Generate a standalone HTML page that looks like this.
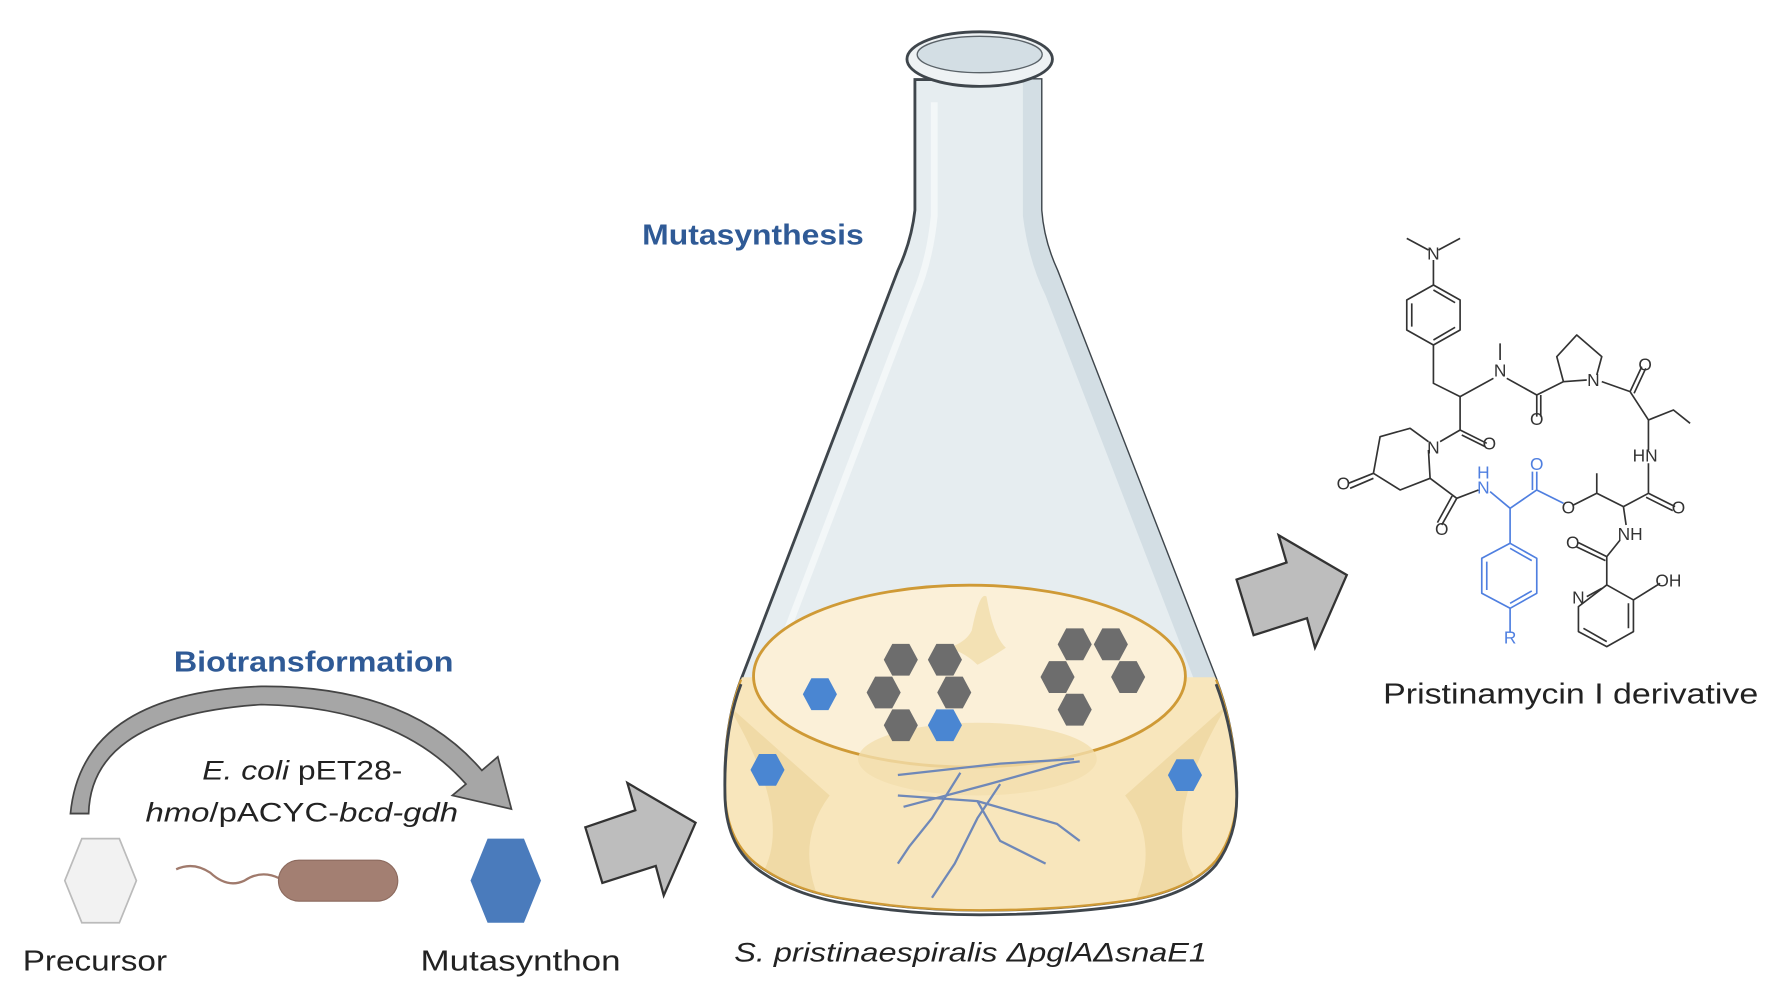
<!DOCTYPE html>
<html><head><meta charset="utf-8"><style>html,body{margin:0;padding:0;background:#fff}svg{display:block}</style></head>
<body>
<svg width="1773" height="1000" viewBox="0 0 1560 880" preserveAspectRatio="none" xmlns="http://www.w3.org/2000/svg" font-family="'Liberation Sans', sans-serif">
<defs>
<clipPath id="fc"><path d="M805,70 L805,185 Q802,212 790,238 L652,598 Q636,640 638,700 Q640,742 668,762 Q700,785 750,792 Q805,801 862,801 Q935,801 995,792 Q1048,783 1070,757 Q1090,730 1088,690 Q1086,640 1070,598 L930,238 Q918,212 916,185 L916,70 Z"/></clipPath>
<polygon id="hx" points="-15,0 -7.5,-14 7.5,-14 15,0 7.5,14 -7.5,14"/>
</defs>
<!-- flask -->
<path d="M805,70 L805,185 Q802,212 790,238 L652,598 Q636,640 638,700 Q640,742 668,762 Q700,785 750,792 Q805,801 862,801 Q935,801 995,792 Q1048,783 1070,757 Q1090,730 1088,690 Q1086,640 1070,598 L930,238 Q918,212 916,185 L916,70 Z" fill="#e6edf0" stroke="#3f464c" stroke-width="2.5"/>
<g clip-path="url(#fc)">
<path d="M900,70 L900,190 Q905,230 920,260 L1090,700 L1100,700 L1100,60 Z" fill="#d3dee4"/>
<path d="M822,90 L822,190 Q818,230 805,260 L660,640" stroke="#f3f7f8" stroke-width="6" fill="none"/>
<rect x="600" y="596" width="520" height="220" fill="#f8e6bc"/>
<path d="M640,620 Q700,720 670,770 L680,790 L720,790 Q700,740 730,700 Z" fill="#eed7a0" opacity=".8"/>
<path d="M1080,620 Q1020,720 1050,770 L1040,790 L1000,790 Q1020,740 990,700 Z" fill="#eed7a0" opacity=".8"/>
</g>
<ellipse cx="853" cy="595" rx="190" ry="80" fill="#fbf0d8" stroke="#cf9a36" stroke-width="2.5"/>
<ellipse cx="860" cy="668" rx="105" ry="32" fill="#f3dfae" opacity=".8"/>
<path d="M855,555 Q862,520 868,525 Q874,560 885,570 Q870,580 860,585 Q850,575 835,570 Q850,565 855,555Z" fill="#f3e1b4"/>
<path d="M652,598 Q636,640 638,700 Q640,742 668,762 Q700,785 750,792 Q805,801 862,801 Q935,801 995,792 Q1048,783 1070,757 Q1090,730 1088,690 Q1086,640 1070,598" fill="none" stroke="#cf9a36" stroke-width="2"/>
<path d="M652,598 Q636,640 638,700 Q640,742 668,762 Q700,785 750,792 Q805,801 862,801 Q935,801 995,792 Q1048,783 1070,757 Q1090,730 1088,690 Q1086,640 1070,598" fill="none" stroke="#3f464c" stroke-width="2.5" transform="translate(0,4)"/>
<g stroke="#6f88b8" stroke-width="2" fill="none">
<path d="M790,682 L880,672 L945,668"/><path d="M795,710 L870,690 L935,672 L950,670"/>
<path d="M845,680 L820,720 L800,745 L790,760"/><path d="M880,690 L860,720 L840,760 L820,790"/>
<path d="M790,700 L860,705 L930,725 L950,740"/><path d="M860,705 L880,740 L920,760"/>
</g>
<ellipse cx="862" cy="52" rx="64" ry="24" fill="#eef2f4" stroke="#3f464c" stroke-width="2.5"/>
<ellipse cx="862" cy="48" rx="55" ry="16" fill="#d3dee4" stroke="#5a6268" stroke-width="1.2"/>
<!-- hexagons in flask -->
<g fill="#6d6d6d">
<use href="#hx" x="792.6" y="580.6"/><use href="#hx" x="831.4" y="580.6"/><use href="#hx" x="777.5" y="609.4"/><use href="#hx" x="839.6" y="609.4"/><use href="#hx" x="792.6" y="638.2"/>
<use href="#hx" x="945.6" y="567"/><use href="#hx" x="977.4" y="567"/><use href="#hx" x="930.5" y="595.8"/><use href="#hx" x="992.6" y="595.8"/><use href="#hx" x="945.6" y="624.5"/>
</g>
<g fill="#4a86d2">
<use href="#hx" x="831.4" y="638.2"/><use href="#hx" x="721.4" y="610.9"/><use href="#hx" x="675.3" y="677.5"/><use href="#hx" x="1042.6" y="682.1"/>
</g>
<!-- block arrows -->
<polygon points="1088,510 1132,495 1125,471 1185,506 1157,570 1150,544 1103,559" fill="#bdbdbd" stroke="#333" stroke-width="2"/>
<polygon points="515,728 559,713 552,689 612,724 584,788 577,762 530,777" fill="#bdbdbd" stroke="#333" stroke-width="2"/>
<!-- curved arrow -->
<path d="M78,716 Q80,630 230,620 Q350,622 410,690 L398,700 L450,712 L438,666 L424,678 Q360,603 230,604 Q72,610 62,716 Z" fill="#a6a6a6" stroke="#444" stroke-width="1.5"/>
<path d="M78,716 L62,716" stroke="#444" stroke-width="1.5"/>
<!-- left items -->
<polygon points="57,775 72,738 105,738 120,775 105,812 72,812" fill="#f2f2f2" stroke="#bbb" stroke-width="1.5"/>
<polygon points="414,775 429,738 461,738 476,775 461,812 429,812" fill="#4a7bbc"/>
<path d="M155,765 Q170,758 185,768 Q200,782 215,775 Q230,765 246,773" fill="none" stroke="#a07a6c" stroke-width="2"/>
<rect x="245" y="757" width="105" height="36" rx="18" fill="#a37f72" stroke="#8c6a5e"/>
<!-- texts -->
<text x="153" y="591" font-size="25" font-weight="bold" fill="#2f5a96" textLength="246" lengthAdjust="spacingAndGlyphs">Biotransformation</text>
<text x="565" y="215" font-size="25" font-weight="bold" fill="#2f5a96" textLength="195" lengthAdjust="spacingAndGlyphs">Mutasynthesis</text>
<text x="178" y="686" font-size="24" fill="#222" textLength="176" lengthAdjust="spacingAndGlyphs"><tspan font-style="italic">E. coli</tspan> pET28-</text>
<text x="128" y="723" font-size="24" fill="#222" textLength="275" lengthAdjust="spacingAndGlyphs"><tspan font-style="italic">hmo</tspan>/pACYC-<tspan font-style="italic">bcd-gdh</tspan></text>
<text x="20" y="854" font-size="25" fill="#222" textLength="127" lengthAdjust="spacingAndGlyphs">Precursor</text>
<text x="370" y="854" font-size="25" fill="#222" textLength="176" lengthAdjust="spacingAndGlyphs">Mutasynthon</text>
<text x="646" y="846" font-size="24" font-style="italic" fill="#222" textLength="416" lengthAdjust="spacingAndGlyphs">S. pristinaespiralis ΔpglAΔsnaE1</text>
<text x="1217" y="619" font-size="25" fill="#222" textLength="330" lengthAdjust="spacingAndGlyphs">Pristinamycin I derivative</text>
<!-- molecule -->
<g transform="translate(1170.3,193.6) scale(0.2933)" fill="none" stroke="#333" stroke-width="5" stroke-linejoin="round">
<path d="M230,55 L295,90 M325,90 L390,55 M310,120 L310,195"/>
<polygon points="310,195 390,240 390,330 310,375 230,330 230,240"/>
<path d="M245,250 L245,320 M310,210 L375,248 M310,360 L375,322"/>
<path d="M310,375 L310,490 L390,530 L490,475 M510,420 L510,370 M530,475 L620,525 L700,485 M620,525 L620,590 M632,525 L632,590"/>
<path d="M700,485 L680,410 L740,345 L815,410 L800,465 M770,480 L700,485"/>
<path d="M815,485 L900,515 L955,600 M900,515 L935,440 M912,520 L947,445 M955,600 L1030,570 L1080,610 M955,600 L955,690 M955,730 L955,820 L880,860 M955,820 L1035,860 M948,832 L1028,872"/>
<path d="M880,860 L800,820 L800,760 M800,820 L730,855"/>
<path d="M390,530 L390,630 L470,670 M395,645 L465,680 M390,630 L330,665 M295,690 L300,775 L210,810 L130,760 L150,650 L240,625 L295,665 M130,760 L55,790 M130,775 L60,805"/>
<path d="M300,775 L380,835 L445,810 M380,835 L335,915 M366,828 L322,908"/>
<path d="M880,860 L888,915 M870,960 L830,1010 L745,968 M826,1022 L738,980 M830,1010 L830,1095"/>
<polygon points="830,1095 910,1140 910,1235 830,1280 745,1235 745,1160"/>
<path d="M910,1140 L990,1090 M895,1150 L895,1225 M830,1265 L760,1225 M815,1105 L770,1130"/>
</g>
<g transform="translate(1170.3,193.6) scale(0.2933)" fill="none" stroke="#4f7fe0" stroke-width="5" stroke-linejoin="round">
<path d="M480,815 L540,865 L620,810 L700,850 M620,810 L620,755 M607,810 L607,755 M540,865 L540,970"/>
<polygon points="540,970 620,1015 620,1120 540,1165 455,1120 455,1015"/>
<path d="M470,1025 L470,1110 M540,985 L605,1022 M540,1150 L605,1113 M540,1165 L540,1235"/>
</g>
<g transform="translate(1170.3,193.6) scale(0.2933)" font-size="52" fill="#333" text-anchor="middle">
<text x="310" y="118">N</text><text x="510" y="470">N</text><text x="790" y="498">N</text><text x="310" y="700">N</text>
<text x="945" y="452">O</text><text x="620" y="615">O</text><text x="478" y="688">O</text><text x="40" y="808">O</text>
<text x="335" y="945">O</text><text x="715" y="880">O</text><text x="1045" y="880">O</text><text x="728" y="985">O</text>
<text x="945" y="725">HN</text><text x="900" y="960">NH</text><text x="1015" y="1100">OH</text><text x="745" y="1150">N</text>
<text x="460" y="820" fill="#4f7fe0">N</text><text x="460" y="775" fill="#4f7fe0">H</text><text x="620" y="750" fill="#4f7fe0">O</text><text x="540" y="1270" fill="#4f7fe0">R</text>
</g>
</svg>
</body></html>
